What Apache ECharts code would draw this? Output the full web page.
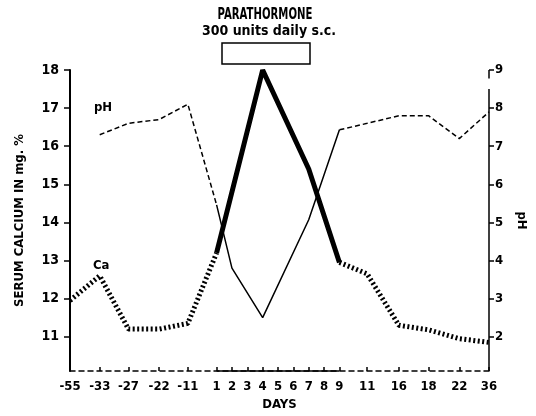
<!DOCTYPE html>
<html>
<head>
<meta charset="utf-8">
<script src="https://cdn.jsdelivr.net/npm/echarts@6/dist/echarts.min.js"></script>
<style>
  html, body { margin: 0; padding: 0; background: #fff; }
  #chart { width: 536px; height: 416px; }
</style>
</head>
<body>
<div id="chart"></div>
<script>
// days of the study, and where each sits on the (uneven) printed day axis
var days = [-55, -33, -27, -22, -11, 1, 2, 3, 4, 5, 6, 7, 8, 9, 11, 16, 18, 22, 36]
var dayAxisPos = [0, 30, 59, 90, 119, 148, 163.5, 179, 194.5, 210, 225.5, 241, 256.5, 272, 300, 332, 362, 393, 423]

// serum calcium, mg %
var calcium = [11.95, 12.6, 11.2, 11.2, 11.35, 13.2, null, null, 18.0, null, null, 15.4, null, 12.95, 12.65, 11.3, 11.18, 10.95, 10.85]
// pH
var ph = [null, 7.3, 7.6, 7.7, 8.1, 5.46, 3.8, null, 2.5, null, null, 5.07, null, 7.43, 7.6, 7.8, 7.8, 7.2, 7.9]

var caTicks = [11, 12, 13, 14, 15, 16, 17, 18]
var phTicks = [2, 3, 4, 5, 6, 7, 8, 9]

var FONT = '"DejaVu Sans Condensed", "DejaVu Sans", sans-serif'
var startIdx = days.indexOf(1)
var endIdx = days.indexOf(9)
var xMax = dayAxisPos[dayAxisPos.length - 1]

function seg (vals, from, to) {
  var out = []
  for (var i = from; i <= to; i++) {
    if (vals[i] != null) out.push([dayAxisPos[i], vals[i]])
  }
  return out
}

var myChart = echarts.init(document.getElementById('chart'))
myChart.setOption({
  animation: false,
  grid: { left: 70, right: 43, top: 70, bottom: 43 },
  xAxis: {
    type: 'value',
    min: 0,
    max: xMax,
    name: 'DAYS',
    nameLocation: 'middle',
    nameGap: 27,
    nameTextStyle: { color: '#000', fontFamily: FONT, fontWeight: 'bold', fontSize: 13 },
    axisLine: { lineStyle: { color: '#000', width: 1.5, type: [5, 4] } },
    axisTick: { inside: true, length: 4, customValues: dayAxisPos, lineStyle: { color: '#000', width: 1.5 } },
    axisLabel: {
      customValues: dayAxisPos,
      color: '#000',
      fontFamily: FONT,
      fontWeight: 'bold',
      fontSize: 13,
      margin: 9,
      formatter: function (v) { return String(days[dayAxisPos.indexOf(v)]) }
    },
    splitLine: { show: false }
  },
  yAxis: [
    {
      type: 'value',
      min: 10.1,
      max: 18,
      name: 'SERUM CALCIUM IN mg. %',
      nameLocation: 'middle',
      nameGap: 44,
      nameTextStyle: { color: '#000', fontFamily: FONT, fontWeight: 'bold', fontSize: 13 },
      axisLine: { show: true, lineStyle: { color: '#000', width: 2 } },
      axisTick: { show: true, length: 6, customValues: caTicks, lineStyle: { color: '#000', width: 1.5 } },
      axisLabel: { customValues: caTicks, color: '#000', fontFamily: FONT, fontWeight: 'bold', fontSize: 14, margin: 11 },
      splitLine: { show: false }
    },
    {
      type: 'value',
      min: 1.1,
      max: 9,
      position: 'right',
      name: 'pH',
      nameLocation: 'middle',
      nameGap: 26,
      nameRotate: -90,
      nameTextStyle: { color: '#000', fontFamily: FONT, fontWeight: 'bold', fontSize: 13 },
      axisLine: { show: false },
      axisTick: { show: true, length: 5, customValues: phTicks, lineStyle: { color: '#000', width: 1.5 } },
      axisLabel: { customValues: phTicks, color: '#000', fontFamily: FONT, fontWeight: 'bold', fontSize: 13, margin: 6 },
      splitLine: { show: false }
    }
  ],
  graphic: [
    { type: 'text', x: 265, y: 8, scaleX: 0.75, originX: 0, style: { text: 'PARATHORMONE', align: 'center', fill: '#000', font: 'bold 15px ' + FONT } },
    { type: 'text', x: 269, y: 24, style: { text: '300 units daily s.c.', align: 'center', fill: '#000', font: 'bold 14px ' + FONT } },
    { type: 'rect', shape: { x: 222, y: 43, width: 88, height: 21 }, style: { fill: 'none', stroke: '#000', lineWidth: 1.5 } },
    { type: 'text', x: 94, y: 101, style: { text: 'pH', fill: '#000', font: 'bold 13px ' + FONT } },
    { type: 'text', x: 93, y: 259, style: { text: 'Ca', fill: '#000', font: 'bold 13px ' + FONT } }
  ],
  series: [
    {
      type: 'line', yAxisIndex: 0, symbol: 'none',
      data: seg(calcium, 0, startIdx),
      lineStyle: { color: '#000', width: 5, type: [2, 2.5], cap: 'butt' },
      markLine: {
        silent: true, symbol: 'none', label: { show: false },
        lineStyle: { color: '#000', width: 1.5, type: 'solid' },
        data: [[{ coord: [dayAxisPos[startIdx], 10.1] }, { coord: [dayAxisPos[endIdx], 10.1] }]]
      }
    },
    {
      type: 'line', yAxisIndex: 0, symbol: 'none',
      data: seg(calcium, startIdx, endIdx),
      lineStyle: { color: '#000', width: 5, type: 'solid' }
    },
    {
      type: 'line', yAxisIndex: 0, symbol: 'none',
      data: seg(calcium, endIdx, days.length - 1),
      lineStyle: { color: '#000', width: 5, type: [2, 2.5], cap: 'butt' }
    },
    {
      type: 'line', yAxisIndex: 1, symbol: 'none',
      data: seg(ph, 0, startIdx),
      lineStyle: { color: '#000', width: 1.5, type: [5, 3] }
    },
    {
      type: 'line', yAxisIndex: 1, symbol: 'none',
      data: seg(ph, startIdx, endIdx),
      lineStyle: { color: '#000', width: 1.5, type: 'solid' }
    },
    {
      type: 'line', yAxisIndex: 1, symbol: 'none',
      data: seg(ph, endIdx, days.length - 1),
      lineStyle: { color: '#000', width: 1.5, type: [5, 3] },
      // right axis line, broken just below 9 as printed
      markLine: {
        silent: true, symbol: 'none', label: { show: false },
        lineStyle: { color: '#000', width: 1.5, type: 'solid' },
        data: [
          [{ coord: [xMax, 9] }, { coord: [xMax, 8.78] }],
          [{ coord: [xMax, 8.5] }, { coord: [xMax, 1.1] }]
        ]
      }
    }
  ]
})
</script>
</body>
</html>
